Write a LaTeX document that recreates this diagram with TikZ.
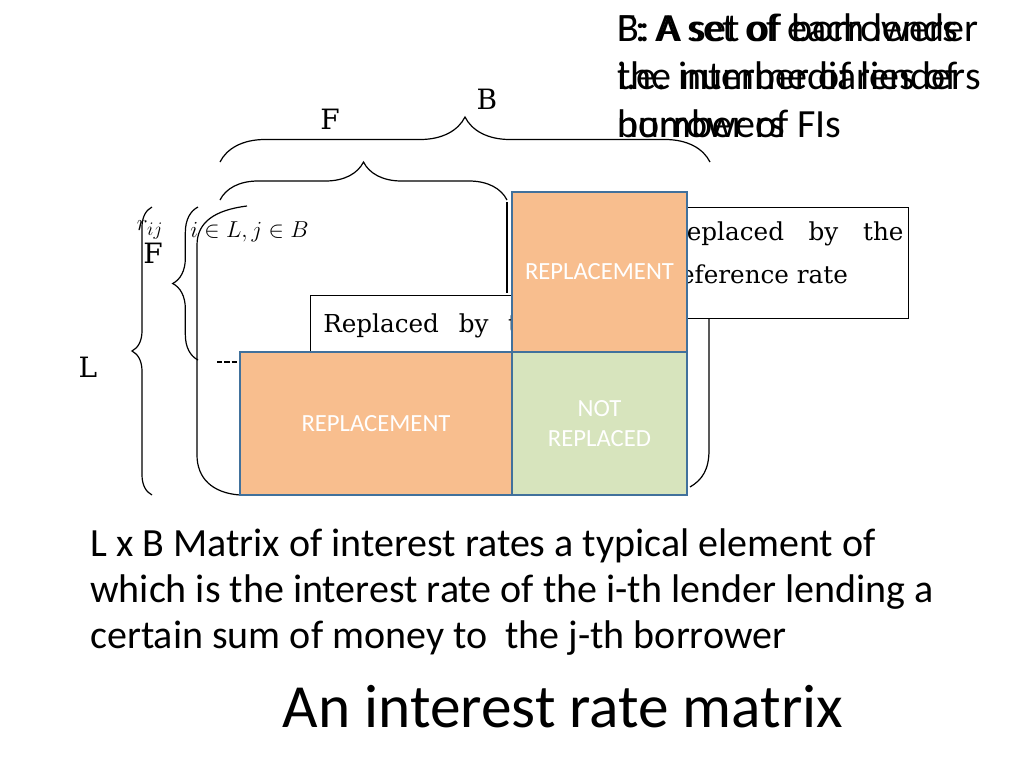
\documentclass[tikz,border=0pt]{standalone}
\usepackage{fontspec}
\newfontfamily\calibri{Carlito}
\newfontfamily\scanserif{DejaVu Serif}
\usetikzlibrary{decorations.pathreplacing}
\definecolor{cellorange}{RGB}{248,190,142}
\definecolor{cellgreen}{RGB}{215,228,189}
\definecolor{cellline}{RGB}{65,113,156}
\begin{document}
\begin{tikzpicture}[x=0.75pt,y=-0.75pt,every node/.style={inner sep=0pt},
  cell/.style={draw=cellline,fill=cellorange,line width=2pt,text=white,align=center,
    font=\calibri\fontsize{18.5}{23}\selectfont},
  note/.style={draw,line width=0.7pt,fill=white,anchor=north west,
    minimum width=186pt,minimum height=83.25pt},
  notetext/.style={anchor=north west,align=left,font=\scanserif\fontsize{18.5}{32.5}\selectfont},
  brc/.style={decorate,line width=0.9pt},
  lbl/.style={font=\scanserif\fontsize{21}{24}\selectfont},
  slide/.style={anchor=north west,align=left,font=\calibri\fontsize{30}{36}\selectfont}
  ]
    \fill[white] (0,0) rectangle (1024,768);
    \useasboundingbox (0,0) rectangle (1024,768);

    \node[slide] (setF) at (617,13) {F: A set of each lender\\i.e. intermediaries of\\number of FIs};
    \node[slide] (setB) at (617,13) {B: A set of borrowers\\the number of lenders\\borrowers};

    \draw[brc,decoration={brace,amplitude=33.75pt}] (220,162) -- (710,162);
    \draw[brc,decoration={brace,amplitude=28.5pt}] (220,200) -- (507,200);
    \draw[brc,decoration={brace,amplitude=15pt}] (152,495) -- (152,207);
    \draw[brc,decoration={brace,amplitude=19pt}] (198,360) -- (198,207);
    \draw[line width=0.9pt] (247,206) .. controls (215,210) and (197,222) .. (197,245)
        -- (197,455) .. controls (197,478) and (212,493) .. (240,495);
    \draw[line width=0.9pt] (709,210) -- (709,450) .. controls (709,470) and (702,480) .. (690,487);
    \draw[line width=1.4pt] (507,202) -- (507,293);

    \node[lbl] (labB) at (487,99) {B};
    \node[lbl] (labF) at (330,119) {F};
    \node[lbl] (labL) at (88,367) {L};
    \node[lbl] (labFl) at (153,253) {F};
    \node[font=\fontsize{19}{22}\selectfont] (rij) at (150,230) {$r_{ij}$};
    \node[font=\fontsize{19}{22}\selectfont,anchor=west] (idx) at (190,232) {$i\in L, j\in B$};

    \node[note] (noteR) at (660,207) {};
    \node[notetext] (noteRtxt) at (668,221) {Replaced\hspace{1em}by\hspace{1em}the\\reference rate};
    \node[note] (noteL) at (310,295) {};
    \node[notetext] (noteLtxt) at (323,313) {Replaced\hspace{0.8em}by\hspace{0.8em}the\\reference rate};

    \coordinate (stub) at (217,362);
    \node[cell,minimum width=131.25pt,minimum height=120pt] (repTop) at (599.5,272) {REPLACEMENT};
    \node[cell,minimum width=204pt,minimum height=107.25pt] (repLeft) at (376,423.5) {REPLACEMENT};
    \node[cell,fill=cellgreen,minimum width=131.25pt,minimum height=107.25pt] (notRep) at (599.5,423.5) {NOT\\REPLACED};
    \draw[line width=2.2pt,dash pattern=on 4pt off 1.5pt] (stub) -- (stub -| repLeft.west);

    \node[slide,font=\calibri\fontsize{30}{34.5}\selectfont] (caption) at (90,528)
        {L x B Matrix of interest rates a typical element of\\which is the interest rate of the i-th lender lending a\\certain sum of money to\ \ the j-th borrower};
    \node[font=\calibri\fontsize{46}{50}\selectfont] (title) at (563,707) {An interest rate matrix};
\end{tikzpicture}
\end{document}
